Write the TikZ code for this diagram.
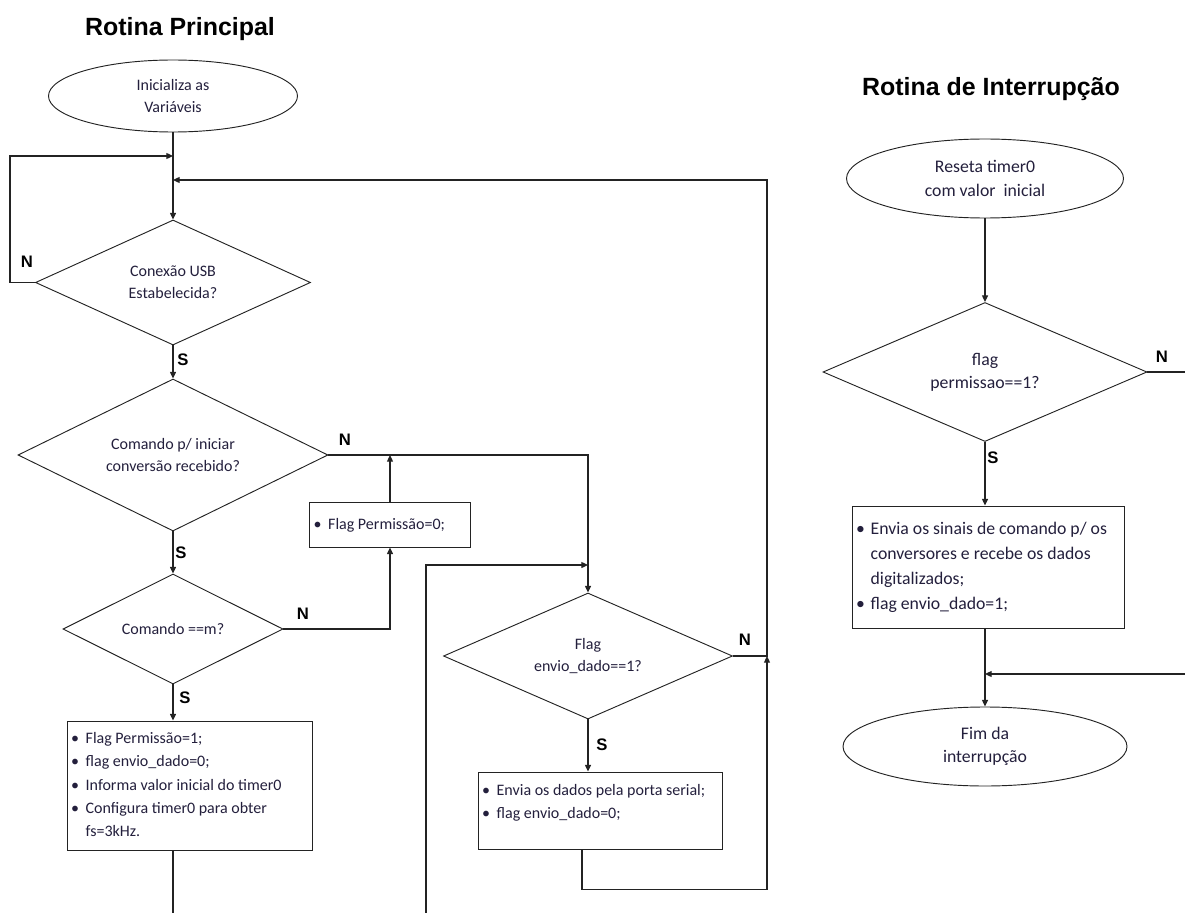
\documentclass[tikz,border=0pt]{standalone}
\usepackage{fontspec}
\setmainfont{Carlito}
\newfontfamily\arialfont{Liberation Sans}
\usepackage{tikz}
\usetikzlibrary{positioning, arrows.meta, shapes.geometric, calc}

\definecolor{txtcol}{RGB}{35,31,60}
\definecolor{linecol}{RGB}{35,35,35}

\newcommand{\bulletbox}[2]{\begin{tabular}{@{}p{11pt}@{}p{#1}@{}}#2\end{tabular}}

\tikzset{
    flow/.style={draw=linecol, line width=0.9pt, -{Triangle[length=5pt,width=4.5pt]}},
    plain/.style={draw=linecol, line width=0.9pt},
    decision/.style={diamond, shape aspect=2.2, draw=linecol, line width=0.7pt, inner sep=0pt, align=center,
        text=txtcol, font=\fontsize{12}{16.5}\selectfont},
    terminal/.style={ellipse, draw=linecol, line width=0.7pt, inner sep=0pt, align=center,
        text=txtcol, font=\fontsize{12}{16.5}\selectfont},
    process/.style={rectangle, draw=linecol, line width=0.7pt, inner xsep=3pt, inner ysep=0pt,
        text=txtcol, font=\fontsize{12}{17.5}\selectfont},
    bigtext/.style={font=\fontsize{13.3}{17.5}\selectfont},
    bigbox/.style={font=\fontsize{13.3}{18.75}\selectfont},
    yesno/.style={font=\arialfont\bfseries\fontsize{12.5}{14}\selectfont, text=black},
    heading/.style={font=\arialfont\bfseries\fontsize{18.7}{22}\selectfont, text=black}
}

\begin{document}
\begin{tikzpicture}[x=0.75pt, y=-0.75pt]
        \useasboundingbox (0,0) rectangle (1185,913);

        % titles
        \node[heading] (tPrincipal) at (180,29) {Rotina Principal};
        \node[heading] (tInterrupcao) at (991,89) {Rotina de Interrupção};

        % main routine
        \node[terminal, minimum width=186.75pt, minimum height=54pt] (init) at (173,96) {Inicializa as\\Variáveis};
        \node[decision, minimum width=206.25pt, minimum height=93.75pt] (usb) at (173,282.5) {Conexão USB\\Estabelecida?};
        \node[decision, minimum width=232.5pt, minimum height=114pt] (conv) at (173,455) {Comando p/ iniciar\\conversão recebido?};
        \node[decision, minimum width=165pt, minimum height=82.5pt] (cmd) at (173,629) {Comando ==m?};
        \node[process, minimum height=96.75pt] (perm1) at (189.5,785.5) {\bulletbox{166.75pt}{%
            \textbullet & Flag Permissão=1;\\
            \textbullet & flag envio\_dado=0;\\
            \textbullet & Informa valor inicial do timer0\\
            \textbullet & Configura timer0 para obter\\
                        & fs=3kHz.}};
        \node[process, minimum height=33.75pt] (perm0) at (390,524.5) {\bulletbox{103.75pt}{%
            \textbullet & Flag Permissão=0;}};
        \node[decision, minimum width=216.75pt, minimum height=94.5pt] (envio) at (588,656) {Flag\\envio\_dado==1?};
        \node[process, minimum height=57.75pt] (serial) at (600,810.5) {\bulletbox{166pt}{%
            \textbullet & Envia os dados pela porta serial;\\
            \textbullet & flag envio\_dado=0;\\[12pt]}};

        % interrupt routine
        \node[terminal, bigtext, minimum width=207.75pt, minimum height=59.25pt] (reset) at (985,178.5) {Reseta timer0\\com valor~~inicial};
        \node[decision, bigtext, minimum width=243pt, minimum height=104.25pt] (perm) at (985,372) {flag\\permissao==1?};
        \node[process, bigbox, minimum height=91.5pt] (sinais) at (988,567) {\bulletbox{187pt}{%
            \textbullet & Envia os sinais de comando p/ os\\
                        & conversores e recebe os dados\\
                        & digitalizados;\\
            \textbullet & flag envio\_dado=1;}};
        \node[terminal, bigtext, minimum width=213pt, minimum height=59.25pt] (fim) at (985,746.5) {Fim da\\interrupção};

        % junction points
        \coordinate (j1) at (173,156);
        \coordinate (j2) at (173,180);
        \coordinate (j3) at (588,565);
        \coordinate (j4) at (985,674);
        \coordinate (rx) at (767,656);
        \coordinate (b1) at (173,913);
        \coordinate (b2) at (426,913);
        \coordinate (b3) at (1185,372);
        \coordinate (b4) at (1185,674);

        % connectors of the main routine
        \draw[flow] (init.south) -- (usb.north);
        \draw[flow] (usb.west) -- ++(-25,0) |- (j1);
        \draw[flow] (usb.south) -- (conv.north);
        \draw[flow] (conv.south) -- (cmd.north);
        \draw[flow] (cmd.south) -- (cmd.south |- perm1.north);
        \draw[plain] (perm1.south -| b1) -- (b1);
        \draw[flow] (conv.east) -| (envio.north);
        \draw[flow] (cmd.east) -| (perm0.south);
        \draw[flow] (perm0.north) -- (perm0.north |- conv.east);
        \draw[flow] (b2) |- (j3);
        \draw[flow] (envio.south) -- (envio.south |- serial.north);
        \draw[flow] ($(serial.south)+(-18,0)$) -- ++(0,40) -| (rx);
        \draw[flow] (envio.east) -- (rx) |- (j2);

        % connectors of the interrupt routine
        \draw[flow] (reset.south) -- (perm.north);
        \draw[plain] (perm.east) -- (b3);
        \draw[flow] (perm.south) -- (perm.south |- sinais.north);
        \draw[flow] (perm.south |- sinais.south) -- (fim.north);
        \draw[flow] (b4) -- (j4);

        % yes / no labels
        \node[yesno] (nUsb) at (27,262) {N};
        \node[yesno] (sUsb) at (183,360) {S};
        \node[yesno] (nConv) at (345,440) {N};
        \node[yesno] (sConv) at (181,553) {S};
        \node[yesno] (nCmd) at (303,614) {N};
        \node[yesno] (sCmd) at (185,698) {S};
        \node[yesno] (nEnvio) at (745,640) {N};
        \node[yesno] (sEnvio) at (602,745) {S};
        \node[yesno] (nPerm) at (1162,357) {N};
        \node[yesno] (sPerm) at (993,458) {S};
    \end{tikzpicture}
\end{document}
